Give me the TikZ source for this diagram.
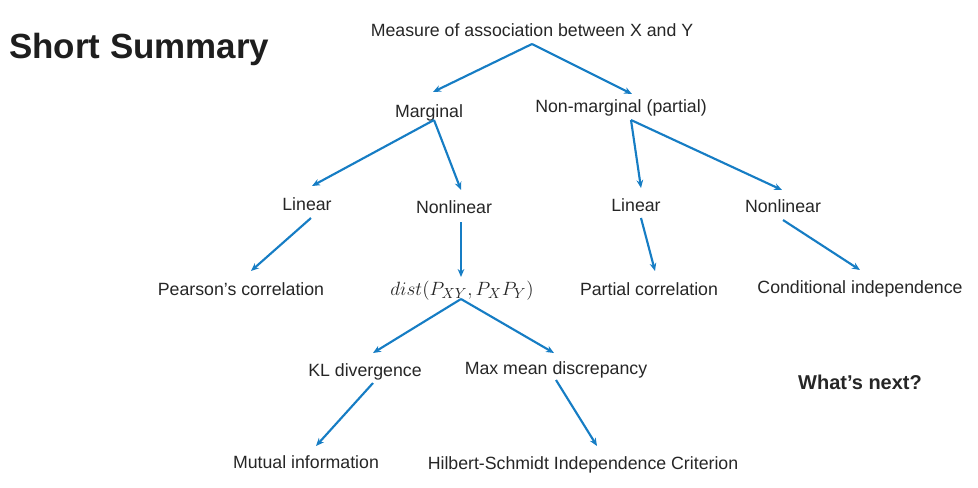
\documentclass[tikz,border=0pt]{standalone}
\usepackage{fontspec}
\setmainfont{Liberation Sans}
\usetikzlibrary{arrows.meta}
\definecolor{linkblue}{RGB}{22,125,196}
\definecolor{ink}{RGB}{38,38,38}
\begin{document}
\begin{tikzpicture}[x=0.75pt,y=-0.75pt,
  lbl/.style={anchor=base,inner sep=0pt,text=ink,font=\fontsize{13.3}{16}\selectfont},
  hd/.style={anchor=base west,inner sep=0pt,text=ink!80!black,font=\fontsize{26.2}{30}\selectfont\bfseries},
  nxt/.style={anchor=base,inner sep=0pt,text=ink,font=\fontsize{15}{18}\selectfont\bfseries},
  arr/.style={-{Stealth[length=6pt,width=5pt]},line width=1.6pt,draw=linkblue}]
\useasboundingbox (0,0) rectangle (978,487);

% headings
\node[hd] (title) at (9,58) {Short Summary};
\node[nxt] (next) at (860,389) {What’s next?};

% tree labels
\node[lbl] (top) at (532,36) {Measure of association between X and Y};
\node[lbl] (marg) at (429,117) {Marginal};
\node[lbl] (nonm) at (621,112) {Non-marginal (partial)};
\node[lbl] (linL) at (307,210) {Linear};
\node[lbl] (nonlL) at (454,213) {Nonlinear};
\node[lbl] (linR) at (636,211) {Linear};
\node[lbl] (nonlR) at (783,212) {Nonlinear};
\node[lbl] (pear) at (241,295) {Pearson’s correlation};
\node[lbl,font=\fontsize{15.3}{18}\selectfont] (dist) at (462,295) {$dist(P_{XY},P_XP_Y)$};
\node[lbl] (part) at (649,295) {Partial correlation};
\node[lbl] (cond) at (860,293) {Conditional independence};
\node[lbl] (kl) at (365,376) {KL divergence};
\node[lbl] (mmd) at (556,374) {Max mean discrepancy};
\node[lbl] (mi) at (306,468) {Mutual information};
\node[lbl] (hsic) at (583,469) {Hilbert-Schmidt Independence Criterion};

% connectors
\draw[arr] ([shift={(0,8)}]top.base) -- ([shift={(4,-25)}]marg.base);
\draw[arr] ([shift={(0,8)}]top.base) -- ([shift={(11,-18)}]nonm.base);
\draw[arr] ([shift={(5,3)}]marg.base) -- ([shift={(5,-24)}]linL.base);
\draw[arr] ([shift={(5,3)}]marg.base) -- ([shift={(7,-23)}]nonlL.base);
\draw[arr] ([shift={(10,8)}]nonm.base) -- ([shift={(5,-23)}]linR.base);
\draw[arr] ([shift={(10,8)}]nonm.base) -- ([shift={(-1,-22)}]nonlR.base);
\draw[arr] ([shift={(4,8)}]linL.base) -- ([shift={(10,-24)}]pear.base);
\draw[arr] ([shift={(7,9)}]nonlL.base) -- ([shift={(-1,-18)}]dist.base);
\draw[arr] ([shift={(5,7)}]linR.base) -- ([shift={(6,-24)}]part.base);
\draw[arr] ([shift={(0,8)}]nonlR.base) -- ([shift={(0,-23)}]cond.base);
\draw[arr] ([shift={(-1,4)}]dist.base) -- ([shift={(8,-23)}]kl.base);
\draw[arr] ([shift={(-1,4)}]dist.base) -- ([shift={(-2,-21)}]mmd.base);
\draw[arr] ([shift={(8,7)}]kl.base) -- ([shift={(10,-22)}]mi.base);
\draw[arr] ([shift={(0,6)}]mmd.base) -- ([shift={(14,-23)}]hsic.base);
\end{tikzpicture}
\end{document}
